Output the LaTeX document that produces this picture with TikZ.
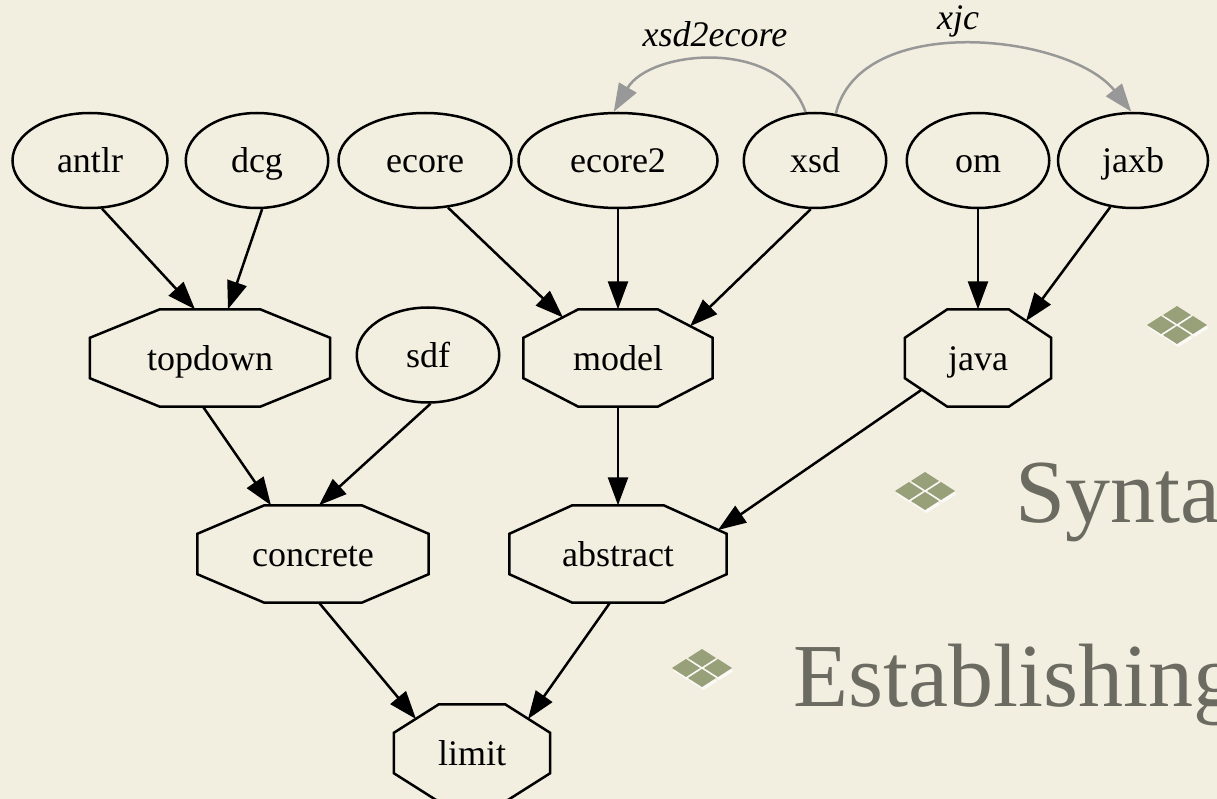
\documentclass[tikz,border=0pt]{standalone}
\usepackage{fontspec}
\setmainfont{Liberation Serif}
\usetikzlibrary{shapes.geometric,arrows.meta,calc}

\definecolor{paper}{RGB}{243,239,224}
\definecolor{slidetext}{RGB}{108,107,98}
\definecolor{bulletgreen}{RGB}{152,160,122}
\definecolor{edgegray}{RGB}{152,152,152}

\tikzset{
    elnode/.style={ellipse, draw, line width=2.5pt, inner sep=0pt, minimum height=95pt,
        text height=28pt, text depth=4pt, font=\fontsize{36}{40}\selectfont},
    octnode/.style={rectangle, inner sep=0pt, minimum height=97pt,
        text height=28pt, text depth=4pt, font=\fontsize{36}{40}\selectfont},
    dep/.style={line width=2.5pt, -{Triangle[length=28pt,width=20pt]}},
    transf/.style={draw=edgegray, line width=2.5pt, -{Triangle[length=28pt,width=20pt]}},
    diabullet/.pic={
        \foreach \dx/\dy in {0/-10,-16/0,16/0,0/10} {
            \fill[white, opacity=.75] (\dx+1.5,\dy+3) +(-14,0) -- +(0,-9) -- +(14,0) -- +(0,9) -- cycle;
            \fill[bulletgreen] (\dx,\dy) +(-14,0) -- +(0,-9) -- +(14,0) -- +(0,9) -- cycle;
        }
    }
}

\begin{document}
\begin{tikzpicture}[x=1pt, y=-1pt]
    \useasboundingbox (0,0) rectangle (1217,799);
    \clip (0,0) rectangle (1217,799);
    \fill[paper] (0,0) rectangle (1217,799);

    \pic at (1177,325) {diabullet};
    \pic at (925,491) {diabullet};
    \pic at (702,668) {diabullet};
    \node[anchor=base west, inner sep=0pt, text=slidetext, font=\fontsize{90}{90}\selectfont] (syntax) at (1015,522) {Synta};
    \node[anchor=base west, inner sep=0pt, text=slidetext, font=\fontsize{90}{90}\selectfont] (establish) at (793,706) {Establishing};

    \node[elnode, minimum width=155pt] (antlr) at (90,160.5) {antlr};
    \node[elnode, minimum width=142.5pt] (dcg) at (257,160.5) {dcg};
    \node[elnode, minimum width=173pt] (ecore) at (425,160.5) {ecore};
    \node[elnode, minimum width=199pt] (ecore2) at (618,160.5) {ecore2};
    \node[elnode, minimum width=142.5pt] (xsd) at (815,160.5) {xsd};
    \node[elnode, minimum width=142.5pt] (om) at (978,160.5) {om};
    \node[elnode, minimum width=150pt] (jaxb) at (1133,160.5) {jaxb};

    \node[octnode, minimum width=240pt] (topdown) at (210,358) {topdown};
    \node[elnode, minimum width=142.5pt] (sdf) at (428,355) {sdf};
    \node[octnode, minimum width=189pt] (model) at (618,358) {model};
    \node[octnode, minimum width=146pt] (java) at (978,358) {java};

    \node[octnode, minimum width=231pt] (concrete) at (313,554) {concrete};
    \node[octnode, minimum width=217pt] (abstract) at (618,554) {abstract};

    \node[octnode, minimum width=156pt] (limit) at (472,753) {limit};

    \foreach \n/\c in {topdown/70,model/55,java/42.5,concrete/67,abstract/63,limit/45} {
        \draw[line width=2.5pt] ([xshift=\c]\n.north west) -- ([xshift=-\c]\n.north east)
            -- ([yshift=-28.5]\n.north east) -- ([yshift=28.5]\n.south east)
            -- ([xshift=-\c]\n.south east) -- ([xshift=\c]\n.south west)
            -- ([yshift=28.5]\n.south west) -- ([yshift=-28.5]\n.north west) -- cycle;
    }

    \draw[dep] (antlr.-76) -- ([xshift=-15]topdown.north);
    \draw[dep] (dcg.-84) -- ([xshift=18]topdown.north);
    \draw[dep] (ecore.-64) -- ($(model)+(-55,-40.5)$);
    \draw[dep] (ecore2.south) -- (model.north);
    \draw[dep] (xsd.-95) -- ($(model)+(72,-31.7)$);
    \draw[dep] (om.south) -- (java.north);
    \draw[dep] (jaxb.-116) -- ($(java)+(48,-37)$);
    \draw[dep] ([xshift=-7]topdown.south) -- ([xshift=-42]concrete.north);
    \draw[dep] (sdf.-87) -- ([xshift=6]concrete.north);
    \draw[dep] (model.south) -- (abstract.north);
    \draw[dep] ($(java)+(-56,31.5)$) -- ($(abstract)+(100,-24)$);
    \draw[dep] ([xshift=6]concrete.south) -- ($(limit)+(-56,-34)$);
    \draw[dep] ([xshift=-8]abstract.south) -- ($(limit)+(56,-34)$);

    \draw[transf] (xsd.101) .. controls +(-26,-75) and +(36,-62) .. (ecore2.95);
    \draw[transf] (xsd.66) .. controls +(24,-103) and +(-62,-78) .. (jaxb.92);
    \node[anchor=base, inner sep=0pt, font=\fontsize{36}{40}\selectfont\itshape] (xsdlabel) at (715,47) {xsd2ecore};
    \node[anchor=base, inner sep=0pt, font=\fontsize{36}{40}\selectfont\itshape] (xjclabel) at (958,30) {xjc};
\end{tikzpicture}
\end{document}
